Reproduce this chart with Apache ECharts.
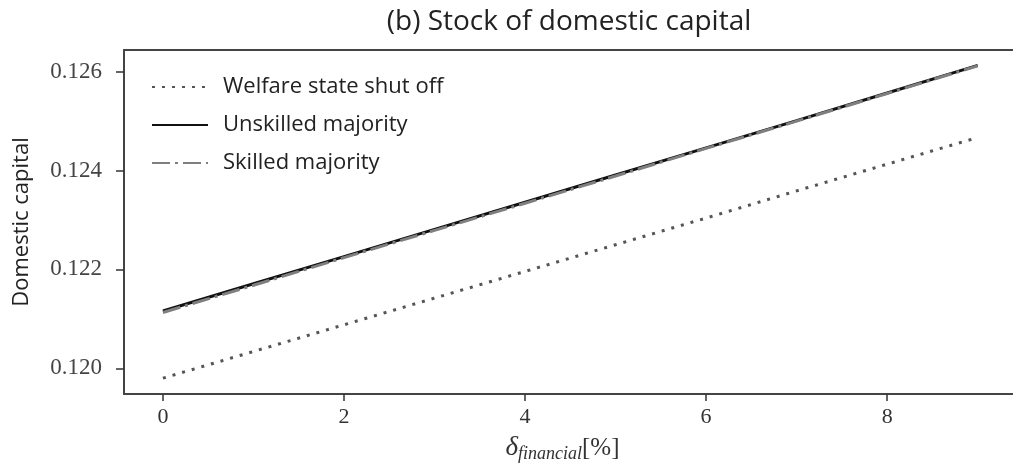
<!DOCTYPE html>
<html>
<head>
<meta charset="utf-8">
<script src="https://cdn.jsdelivr.net/npm/echarts@6/dist/echarts.min.js"></script>
<style>
html,body{margin:0;padding:0;background:#fff;overflow:hidden;}
#chart{width:1013px;height:464px;}
</style>
</head>
<body>
<div id="chart"></div>
<script>
var xValues = [0, 1, 2, 3, 4, 5, 6, 7, 8, 9];
var welfareOff = [0.11980, 0.12034, 0.12088, 0.12142, 0.12196, 0.12250, 0.12304, 0.12359, 0.12413, 0.12467];
var unskilled = [0.12116, 0.12171, 0.12226, 0.12281, 0.12336, 0.12391, 0.12446, 0.12501, 0.12557, 0.12613];
var skilled = [0.12113, 0.12168, 0.12224, 0.12279, 0.12334, 0.12389, 0.12445, 0.12500, 0.12556, 0.12612];
var xTicks = [0, 2, 4, 6, 8];
var yTicks = [0.120, 0.122, 0.124, 0.126];
var seriesNames = ['Welfare state shut off', 'Unskilled majority', 'Skilled majority'];

function pairs(ys) { return xValues.map(function (x, i) { return [x, ys[i]]; }); }

var chart = echarts.init(document.getElementById('chart'));
chart.setOption({
  animation: false,
  backgroundColor: '#fff',
  title: {
    text: '(b) Stock of domestic capital',
    left: 564, top: 3, textAlign: 'center',
    textStyle: { fontFamily: 'Open Sans', fontSize: 28, fontWeight: 'normal', color: '#222' }
  },
  grid: {
    left: 124, top: 50, width: 889, height: 344,
    outerBoundsMode: 'none', containLabel: false,
    show: false
  },
  legend: {
    orient: 'vertical', left: 146, top: 71,
    itemWidth: 56, itemHeight: 20, itemGap: 16,
    data: seriesNames,
    itemStyle: { opacity: 0 },
    textStyle: { fontFamily: 'Open Sans', fontSize: 22, color: '#222', padding: [0, 0, 0, 10] }
  },
  xAxis: [{
    type: 'value', min: -0.43, max: 9.39,
    name: '{d|δ}{s|financial}{p|[%]}',
    nameLocation: 'middle', nameGap: 39,
    nameTextStyle: {
      padding: [0, 12, 0, 0],
      rich: {
        d: { fontFamily: 'Liberation Serif', fontSize: 27, color: '#333', fontStyle: 'italic' },
        s: { fontFamily: 'Liberation Serif', fontSize: 18, color: '#333', fontStyle: 'italic', padding: [12, 0, 0, 0] },
        p: { fontFamily: 'Liberation Serif', fontSize: 25, color: '#333' }
      }
    },
    axisLine: { show: true, onZero: false, lineStyle: { color: '#444', width: 2 } },
    axisTick: { show: true, length: 7, inside: false, lineStyle: { color: '#333', width: 1.5 },
      customValues: xTicks },
    axisLabel: { fontFamily: 'Liberation Serif', fontSize: 22, color: '#333', margin: 12,
      customValues: xTicks,
      formatter: function (v) { return String(v); } },
    splitLine: { show: false }
  }, {
    type: 'value', min: -0.43, max: 9.39, position: 'top',
    axisLine: { show: true, onZero: false, lineStyle: { color: '#444', width: 2 } },
    axisTick: { show: false }, axisLabel: { show: false }, splitLine: { show: false }
  }],
  yAxis: {
    type: 'value', min: 0.11948, max: 0.12644,
    name: 'Domestic capital',
    nameLocation: 'middle', nameGap: 91, nameRotate: 90,
    nameTextStyle: { fontFamily: 'Open Sans', fontSize: 22, color: '#222' },
    axisLine: { show: true, onZero: false, lineStyle: { color: '#444', width: 2 } },
    axisTick: { show: true, length: 8, lineStyle: { color: '#333', width: 1.5 }, customValues: yTicks },
    axisLabel: { fontFamily: 'Liberation Serif', fontSize: 23, color: '#444', margin: 22,
      customValues: yTicks,
      formatter: function (v) { return v.toFixed(3); } },
    splitLine: { show: false }
  },
  series: [
    {
      name: seriesNames[0], type: 'line', data: pairs(welfareOff), symbol: 'none',
      lineStyle: { color: '#555', width: 3, type: [3, 7] },
      itemStyle: { color: '#555' }, z: 2
    },
    {
      name: seriesNames[1], type: 'line', data: pairs(unskilled), symbol: 'none',
      lineStyle: { color: '#111', width: 3, type: 'solid' },
      itemStyle: { color: '#111' }, z: 3
    },
    {
      name: seriesNames[2], type: 'line', data: pairs(skilled), symbol: 'none',
      lineStyle: { color: '#7f7f7f', width: 3, type: [18, 5, 3, 5] },
      itemStyle: { color: '#7f7f7f' }, z: 4
    }
  ]
});
</script>
</body>
</html>
